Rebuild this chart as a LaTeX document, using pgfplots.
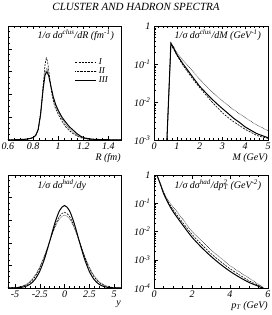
\documentclass[border=0pt]{standalone}
\usepackage{pgfplots}
\pgfplotsset{compat=1.18}
\usepackage{fontspec}
\setmainfont{Liberation Serif}

\pgfplotsset{
  rootstyle/.style={
    scale only axis,
    axis line style={line width=0.5pt},
    tick style={line width=0.4pt, black},
    major tick length=3.5pt,
    minor tick length=2pt,
    tick align=inside,
    xtick pos=both,
    ytick pos=left,
    /pgf/number format/assume math mode=true,
    tick label style={font=\fontsize{10}{10}\selectfont\itshape},
    xticklabel style={yshift=1pt},
    xlabel style={at={(rel axis cs:1,0)}, anchor=north east, yshift=-13pt, font=\fontsize{10}{10}\selectfont\itshape, inner sep=0pt},
    clip=true,
  },
  cI/.style={black, line width=0.6pt, dash pattern=on 2pt off 1.2pt},
  cII/.style={black, line width=0.5pt, dash pattern=on 0.6pt off 0.8pt},
  cIII/.style={black, line width=1.0pt},
}
\newcommand{\ttl}{\fontsize{10}{10}\selectfont\itshape}

\begin{document}
\begin{tikzpicture}
\useasboundingbox (0,0) rectangle (272pt,315pt);
\node[font=\fontsize{11}{11}\selectfont\itshape] at (136pt,308pt) {CLUSTER AND HADRON SPECTRA};

% ---------- top left: R ----------
\begin{axis}[rootstyle,
  at={(8pt,175pt)}, anchor=south west, width=113pt, height=114pt,
  xmin=0.6, xmax=1.5, ymin=0, ymax=1,
  xtick={0.6,0.8,1,1.2,1.4}, xticklabels={0.6,0.8,1,1.2,1.4},
  minor x tick num=3,
  ytick={0,0.2,...,1}, yticklabels={}, minor y tick num=3,
  xlabel={R (fm)},
  legend image code/.code={\draw[#1] (0pt,0pt) -- (21pt,0pt);},
  legend style={draw=none, fill=none, at={(rel axis cs:0.59,0.73)}, anchor=north west,
    font=\fontsize{9}{9}\selectfont\itshape, row sep=-2.5pt, inner sep=0pt},
  legend cell align=left,
]
\addplot[cI] coordinates {
(0.60,0.000) (0.70,0.003) (0.75,0.007) (0.80,0.020) (0.82,0.038) (0.84,0.085)
(0.86,0.230) (0.88,0.480) (0.895,0.660) (0.905,0.720) (0.915,0.690) (0.93,0.560)
(0.95,0.400) (0.97,0.300) (1.00,0.225) (1.03,0.165) (1.06,0.115) (1.09,0.080)
(1.12,0.055) (1.15,0.035) (1.18,0.020) (1.21,0.011) (1.25,0.006) (1.30,0.003)
(1.40,0.001) (1.50,0.000)};
\addlegendentry{I}
\addplot[cII] coordinates {
(0.60,0.000) (0.70,0.003) (0.75,0.007) (0.80,0.020) (0.82,0.037) (0.84,0.085)
(0.86,0.220) (0.88,0.450) (0.895,0.590) (0.91,0.630) (0.925,0.580) (0.94,0.480)
(0.96,0.370) (0.98,0.300) (1.00,0.245) (1.03,0.185) (1.06,0.135) (1.09,0.095)
(1.12,0.065) (1.15,0.042) (1.18,0.025) (1.21,0.014) (1.25,0.008) (1.30,0.004)
(1.40,0.001) (1.50,0.000)};
\addlegendentry{II}
\addplot[cIII] coordinates {
(0.60,0.000) (0.65,0.002) (0.70,0.004) (0.75,0.008) (0.78,0.014) (0.80,0.022)
(0.82,0.040) (0.84,0.090) (0.86,0.230) (0.88,0.450) (0.895,0.570) (0.91,0.600)
(0.925,0.560) (0.94,0.480) (0.96,0.380) (0.98,0.310) (1.00,0.260) (1.03,0.200)
(1.06,0.155) (1.09,0.115) (1.12,0.085) (1.15,0.055) (1.18,0.032) (1.21,0.018)
(1.25,0.010) (1.30,0.005) (1.40,0.002) (1.50,0.001)};
\addlegendentry{III}
\node[anchor=west, inner sep=0pt, font=\ttl] at (rel axis cs:0.26,0.92)
  {1/σ dσ\textsuperscript{clus}/dR (fm\textsuperscript{-1})};
\end{axis}

% ---------- top right: M ----------
\begin{axis}[rootstyle, ymode=log,
  at={(154pt,175pt)}, anchor=south west, width=114pt, height=114pt,
  xmin=0, xmax=5, ymin=1e-3, ymax=1,
  xtick={0,1,2,3,4,5}, xticklabels={0,1,2,3,4,5}, minor x tick num=4,
  ytick={1e-3,1e-2,1e-1,1},
  yticklabels={10\textsuperscript{-3},10\textsuperscript{-2},10\textsuperscript{-1},1},
  xlabel={M (GeV)},
]
\addplot[cI] coordinates {
(0.56,0.0008) (0.74,0.33) (0.85,0.25) (1.0,0.17) (1.25,0.097) (1.5,0.059) (1.75,0.037)
(2.0,0.024) (2.25,0.016) (2.5,0.0107) (2.75,0.0074) (3.0,0.0052) (3.25,0.0039)
(3.5,0.0030) (3.75,0.0024) (4.0,0.0019) (4.25,0.0016) (4.5,0.00132) (4.75,0.0012) (5.0,0.0011)};
\addplot[cII] coordinates {
(0.56,0.0008) (0.75,0.36) (0.85,0.29) (1.0,0.20) (1.25,0.13) (1.5,0.089) (1.75,0.059)
(2.0,0.040) (2.25,0.028) (2.5,0.0195) (2.75,0.0144) (3.0,0.0107) (3.25,0.0081)
(3.5,0.0062) (3.75,0.0049) (4.0,0.0039) (4.25,0.0031) (4.5,0.0025) (4.75,0.0021) (5.0,0.00174)};
\addplot[cIII] coordinates {
(0.56,0.0008) (0.74,0.35) (0.85,0.27) (1.0,0.18) (1.25,0.105) (1.5,0.066) (1.75,0.041)
(2.0,0.026) (2.25,0.018) (2.5,0.0126) (2.75,0.0091) (3.0,0.0067) (3.25,0.0050)
(3.5,0.0037) (3.75,0.0029) (4.0,0.0022) (4.25,0.0018) (4.5,0.00148) (4.75,0.0013) (5.0,0.00115)};
\node[anchor=west, inner sep=0pt, font=\ttl] at (rel axis cs:0.18,0.92)
  {1/σ dσ\textsuperscript{clus}/dM (GeV\textsuperscript{-1})};
\end{axis}

% ---------- bottom left: y ----------
\begin{axis}[rootstyle,
  at={(8pt,27pt)}, anchor=south west, width=113pt, height=113pt,
  xmin=-5.7, xmax=5.7, ymin=0, ymax=1,
  xtick={-5,-2.5,0,2.5,5}, xticklabels={-5,-2.5,0,2.5,5}, minor x tick num=4,
  ytick={0,0.2,...,1}, yticklabels={}, minor y tick num=3,
  xlabel={y},
]
\addplot[cI, smooth] coordinates {
(-5.7,0.0006) (-5,0.0031) (-4.5,0.0086) (-4,0.0215) (-3.5,0.0481) (-3,0.0968)
(-2.5,0.1748) (-2,0.2835) (-1.5,0.413) (-1,0.540) (-0.5,0.635) (0,0.670)
(0.5,0.635) (1,0.540) (1.5,0.413) (2,0.2835) (2.5,0.1748) (3,0.0968)
(3.5,0.0481) (4,0.0215) (4.5,0.0086) (5,0.0031) (5.7,0.0006)};
\addplot[cII, smooth] coordinates {
(-5.7,0.001) (-5,0.0045) (-4.5,0.0115) (-4,0.0267) (-3.5,0.0563) (-3,0.1076)
(-2.5,0.186) (-2,0.291) (-1.5,0.412) (-1,0.529) (-0.5,0.614) (0,0.645)
(0.5,0.614) (1,0.529) (1.5,0.412) (2,0.291) (2.5,0.186) (3,0.1076)
(3.5,0.0563) (4,0.0267) (4.5,0.0115) (5,0.0045) (5.7,0.001)};
\addplot[cIII, smooth] coordinates {
(-5.7,0.0002) (-5,0.0012) (-4.5,0.0042) (-4,0.0123) (-3.5,0.0321) (-3,0.0735)
(-2.5,0.148) (-2,0.263) (-1.5,0.411) (-1,0.566) (-0.5,0.685) (0,0.730)
(0.5,0.685) (1,0.566) (1.5,0.411) (2,0.263) (2.5,0.148) (3,0.0735)
(3.5,0.0321) (4,0.0123) (4.5,0.0042) (5,0.0012) (5.7,0.0002)};
\node[anchor=west, inner sep=0pt, font=\ttl] at (rel axis cs:0.26,0.91)
  {1/σ dσ\textsuperscript{had}/dy};
\end{axis}

% ---------- bottom right: pT ----------
\begin{axis}[rootstyle, ymode=log,
  at={(154pt,27pt)}, anchor=south west, width=114pt, height=113pt,
  xmin=0, xmax=6, ymin=1e-4, ymax=1,
  xtick={0,2,4,6}, xticklabels={0,2,4,6}, minor x tick num=3,
  ytick={1e-4,1e-3,1e-2,1e-1,1},
  yticklabels={10\textsuperscript{-4},10\textsuperscript{-3},10\textsuperscript{-2},10\textsuperscript{-1},1},
  xlabel={p\textsubscript{T} (GeV)},
]
\addplot[cI, smooth] coordinates {
(0.15,1.0) (0.35,0.46) (0.5,0.24) (0.75,0.11) (1.0,0.060) (1.5,0.021) (2.0,0.0079)
(2.5,0.0035) (3.0,0.00166) (3.5,0.00087) (4.0,0.00048) (4.5,0.00029) (5.0,0.00018)
(5.5,0.000124) (5.75,0.0001)};
\addplot[cII, smooth] coordinates {
(0.15,1.0) (0.35,0.48) (0.5,0.26) (0.75,0.125) (1.0,0.076) (1.5,0.028) (2.0,0.0100)
(2.5,0.0047) (3.0,0.00224) (3.5,0.00117) (4.0,0.00062) (4.5,0.00037) (5.0,0.000224)
(5.5,0.000135) (5.8,0.0001)};
\addplot[cIII, smooth] coordinates {
(0.15,1.0) (0.35,0.44) (0.5,0.224) (0.75,0.10) (1.0,0.051) (1.5,0.0174) (2.0,0.0063)
(2.5,0.00275) (3.0,0.00132) (3.5,0.00069) (4.0,0.00039) (4.5,0.00024) (5.0,0.000158)
(5.5,0.000115) (5.7,0.0001)};
\node[anchor=west, inner sep=0pt, font=\ttl] at (rel axis cs:0.18,0.91)
  {1/σ dσ\textsuperscript{had}/dp\rlap{\textsuperscript{2}}\textsubscript{T} (GeV\textsuperscript{-2})};
\end{axis}
\end{tikzpicture}
\end{document}
